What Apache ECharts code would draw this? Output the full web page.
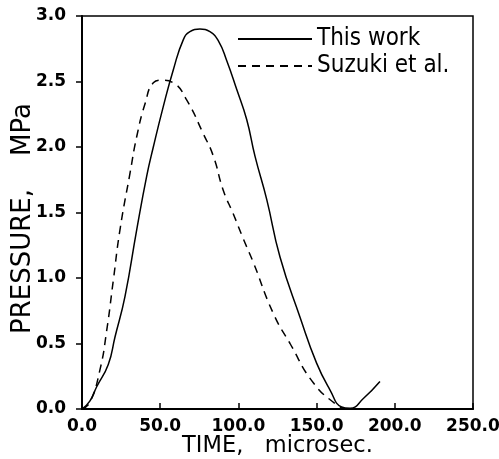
<!DOCTYPE html>
<html>
<head>
<meta charset="utf-8">
<script src="https://cdn.jsdelivr.net/npm/echarts@6/dist/echarts.min.js"></script>
<style>
  html, body { margin: 0; padding: 0; background: #fff; }
  #chart { width: 499px; height: 459px; }
</style>
</head>
<body>
<div id="chart"></div>
<script>
// Pressure pulse: time in microseconds, pressure in MPa
var thisWorkTime = [0, 5, 9.4, 16.8, 21.1, 27.5, 35, 41.4, 45.6, 52, 58.4, 64.8, 69, 75.4, 81.8, 87.2, 92.5, 98.9, 105.3, 110.6, 118.1, 126.6, 139.4, 150, 158.6, 166, 171.4, 179.9, 190.5];
var thisWorkPressure = [0, 0.06, 0.17, 0.34, 0.55, 0.86, 1.37, 1.78, 2.0, 2.31, 2.59, 2.82, 2.88, 2.90, 2.88, 2.81, 2.66, 2.44, 2.21, 1.93, 1.60, 1.16, 0.70, 0.35, 0.145, 0.015, 0.005, 0.08, 0.21];

var suzukiTime = [0, 5, 11.5, 15.8, 20, 24.3, 30.7, 35, 40.3, 45.6, 51, 58.4, 66.9, 77.6, 84, 90.3, 96.7, 103.1, 109.5, 122.3, 133, 147.9, 162.9, 168];
var suzukiPressure = [0, 0.05, 0.30, 0.60, 0.98, 1.37, 1.80, 2.08, 2.33, 2.49, 2.51, 2.49, 2.36, 2.10, 1.93, 1.67, 1.49, 1.30, 1.12, 0.73, 0.50, 0.20, 0.03, 0.0];

var xTicks = { min: 0, max: 250, interval: 50 };
var yTicks = { min: 0, max: 3, interval: 0.5 };

function pairs(xs, ys) {
  return xs.map(function (x, i) { return [x, ys[i]]; });
}

var tickFont = { fontFamily: 'DejaVu Sans', fontWeight: 'bold', fontSize: 17, color: '#000' };

var chart = echarts.init(document.getElementById('chart'), null, { renderer: 'canvas' });
chart.setOption({
  animation: false,
  backgroundColor: '#fff',
  grid: {
    left: 82, right: 26, top: 16, bottom: 50,
    outerBoundsMode: 'none', containLabel: false,
    show: true, borderColor: '#000', borderWidth: 1.5, backgroundColor: 'transparent'
  },
  legend: {
    orient: 'vertical',
    left: 232, top: 22,
    itemWidth: 74, itemHeight: 14, itemGap: 3,
    itemStyle: { opacity: 0 },
    textStyle: { fontFamily: 'DejaVu Sans Condensed', fontSize: 24, color: '#000' },
    data: ['This work', 'Suzuki et al.']
  },
  xAxis: {
    type: 'value',
    min: xTicks.min, max: xTicks.max, interval: xTicks.interval,
    name: 'TIME,   microsec.', nameLocation: 'middle', nameGap: 26, nameMoveOverlap: false,
    nameTextStyle: { fontFamily: 'DejaVu Sans', fontSize: 22.5, color: '#000' },
    axisLine: { lineStyle: { color: '#000', width: 2 } },
    axisTick: { inside: true, length: 6, lineStyle: { color: '#000', width: 1.5 } },
    axisLabel: Object.assign({ margin: 9, formatter: function (v) { return v.toFixed(1); } }, tickFont),
    splitLine: { show: false }
  },
  yAxis: {
    type: 'value',
    min: yTicks.min, max: yTicks.max, interval: yTicks.interval,
    name: 'PRESSURE,    MPa', nameLocation: 'middle', nameGap: 46, nameMoveOverlap: false,
    nameTextStyle: { fontFamily: 'DejaVu Sans', fontSize: 26, color: '#000', padding: [0, 12, 0, 0] },
    axisLine: { lineStyle: { color: '#000', width: 2 } },
    axisTick: { inside: false, length: 6, lineStyle: { color: '#000', width: 1.5 } },
    axisLabel: Object.assign({ margin: 16, formatter: function (v) { return v.toFixed(1); } }, tickFont),
    splitLine: { show: false }
  },
  series: [
    {
      name: 'This work', type: 'line', smooth: 0.5, symbol: 'none',
      data: pairs(thisWorkTime, thisWorkPressure),
      lineStyle: { color: '#000', width: 1.5, type: 'solid' },
      itemStyle: { color: '#000' }
    },
    {
      name: 'Suzuki et al.', type: 'line', smooth: 0.5, symbol: 'none',
      data: pairs(suzukiTime, suzukiPressure),
      lineStyle: { color: '#000', width: 1.5, type: [8, 6] },
      itemStyle: { color: '#000' }
    }
  ]
});
</script>
</body>
</html>
